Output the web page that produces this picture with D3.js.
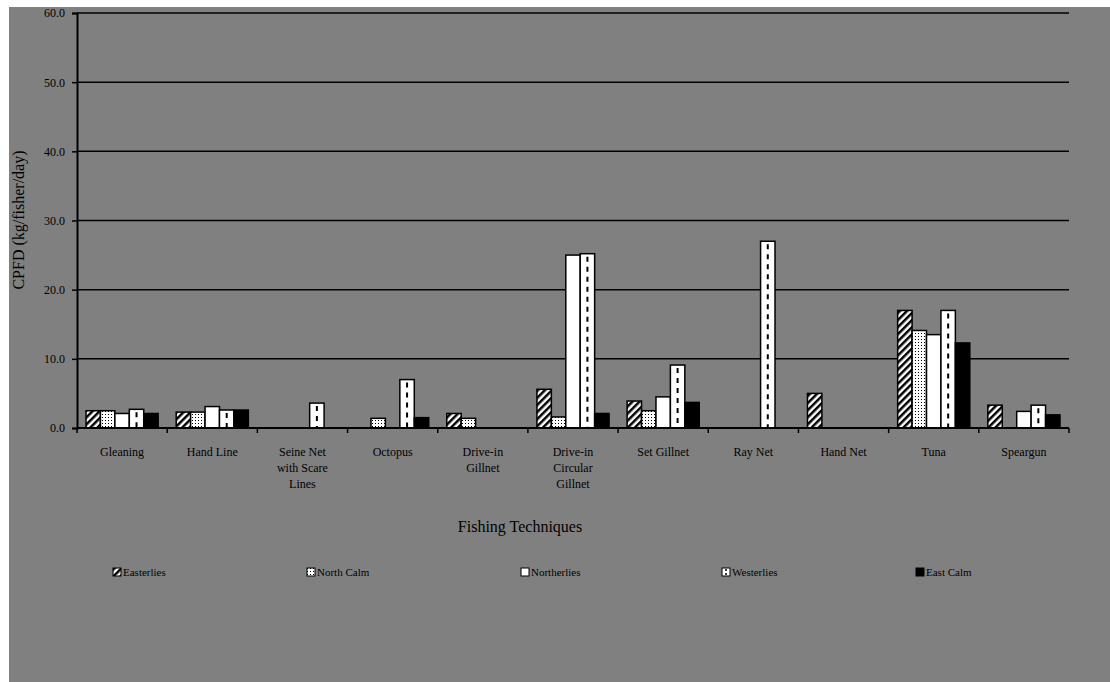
<!DOCTYPE html>
<html><head><meta charset="utf-8">
<script src="https://cdn.jsdelivr.net/npm/d3@7"></script>
<style>body{margin:0;background:#fff}svg{display:block}text{font-family:"Liberation Serif","DejaVu Serif",serif;fill:#000}</style>
</head><body>
<svg id="c" width="1110" height="682"></svg>
<script>
const categories = [["Gleaning"],["Hand Line"],["Seine Net","with Scare","Lines"],["Octopus"],["Drive-in","Gillnet"],["Drive-in","Circular","Gillnet"],["Set Gillnet"],["Ray Net"],["Hand Net"],["Tuna"],["Speargun"]];
const seriesNames = ["Easterlies","North Calm","Northerlies","Westerlies","East Calm"];
const easterlies  = [2.5, 2.3, null, null, 2.1, 5.6, 3.9, null, 5.0, 17.0, 3.3];
const northCalm   = [2.5, 2.3, null, 1.4, 1.4, 1.6, 2.5, null, null, 14.1, null];
const northerlies = [2.1, 3.1, null, null, null, 25.0, 4.5, null, null, 13.5, 2.4];
const westerlies  = [2.7, 2.6, 3.6, 7.0, null, 25.2, 9.1, 27.0, null, 17.0, 3.3];
const eastCalm    = [2.1, 2.6, null, 1.5, null, 2.1, 3.7, null, null, 12.3, 1.9];
const seriesValues = [easterlies, northCalm, northerlies, westerlies, eastCalm];
const yTicks = [0,10,20,30,40,50,60];

const svg = d3.select("#c");
svg.append("rect").attr("x",9).attr("y",7).attr("width",1101).attr("height",675).attr("fill","#808080");

const defs = svg.append("defs");
const p1 = defs.append("pattern").attr("id","pE").attr("patternUnits","userSpaceOnUse").attr("width",5).attr("height",5).attr("patternTransform","rotate(45)");
p1.append("rect").attr("width",5).attr("height",5).attr("fill","#fff");
p1.append("rect").attr("width",2.5).attr("height",5).attr("fill","#000");
const p2 = defs.append("pattern").attr("id","pN").attr("patternUnits","userSpaceOnUse").attr("width",3).attr("height",3);
p2.append("rect").attr("width",3).attr("height",3).attr("fill","#fff");
p2.append("rect").attr("width",1).attr("height",1).attr("fill","#000");
const fills = ["url(#pE)","url(#pN)","#fff","#fff","#000"];

const x0 = 77, x1 = 1069;
const x = d3.scaleBand().domain(d3.range(categories.length)).range([x0,x1]);
const y = d3.scaleLinear().domain([0,60]).range([428,13]);
const bw = x.bandwidth()/(5+1.25);
const xs = d3.scaleBand().domain(d3.range(5)).range([0,bw*5]);
const off = (x.bandwidth()-bw*5)/2;

// gridlines
svg.append("g").selectAll("line").data(yTicks.filter(d=>d>0)).join("line")
  .attr("x1",x0).attr("x2",x1).attr("y1",d=>y(d)).attr("y2",d=>y(d))
  .attr("stroke","#000").attr("stroke-width",1.5);

// y axis
const ya = svg.append("g").attr("transform",`translate(${x0},0)`)
  .call(d3.axisLeft(y).tickValues(yTicks).tickFormat(d3.format(".1f")).tickSize(5).tickPadding(7));
ya.select(".domain").attr("stroke","#000").attr("stroke-width",2);
ya.selectAll(".tick line").attr("stroke","#000").attr("stroke-width",1.5);
ya.selectAll("text").attr("font-size",12).attr("font-family","Liberation Serif").attr("fill","#000");

// bars
seriesValues.forEach((vals,si)=>{
  const g = svg.append("g");
  const data = vals.map((v,i)=>({i,v})).filter(d=>d.v!=null);
  g.selectAll("rect").data(data).join("rect")
    .attr("x",d=>x(d.i)+off+xs(si)).attr("width",bw)
    .attr("y",d=>y(d.v)).attr("height",d=>y(0)-y(d.v))
    .attr("fill",fills[si]).attr("stroke","#000").attr("stroke-width",1.5);
  if(si===3){
    g.selectAll("line").data(data).join("line")
      .attr("x1",d=>x(d.i)+off+xs(si)+bw/2).attr("x2",d=>x(d.i)+off+xs(si)+bw/2)
      .attr("y1",d=>y(d.v)+3).attr("y2",y(0))
      .attr("stroke","#000").attr("stroke-width",2).attr("stroke-dasharray","5,5");
  }
});

// x axis
svg.append("line").attr("x1",x0).attr("x2",x1).attr("y1",y(0)).attr("y2",y(0)).attr("stroke","#000").attr("stroke-width",2);
svg.append("g").selectAll("line").data(d3.range(categories.length+1)).join("line")
  .attr("x1",d=>x0+d*x.step()).attr("x2",d=>x0+d*x.step()).attr("y1",y(0)).attr("y2",y(0)+5)
  .attr("stroke","#000").attr("stroke-width",1.5);
const xl = svg.append("g").selectAll("text").data(categories).join("text")
  .attr("x",(d,i)=>x(i)+x.bandwidth()/2).attr("y",456).attr("text-anchor","middle").attr("font-size",12);
xl.selectAll("tspan").data(d=>d).join("tspan")
  .attr("x",function(){return this.parentNode.getAttribute("x");})
  .attr("dy",(d,i)=>i===0?0:16).text(d=>d);

// axis titles
svg.append("text").attr("x",520).attr("y",532).attr("text-anchor","middle").attr("font-size",16).text("Fishing Techniques");
svg.append("text").attr("transform","translate(24,220) rotate(-90)").attr("text-anchor","middle").attr("font-size",16).text("CPFD (kg/fisher/day)");

// legend
const legX = [113,307,521,722,916];
const lg = svg.append("g").selectAll("g").data(seriesNames).join("g")
  .attr("transform",(d,i)=>`translate(${legX[i]},568)`);
lg.append("rect").attr("width",8).attr("height",8).attr("fill",(d,i)=>fills[i]).attr("stroke","#000").attr("stroke-width",1);
lg.filter((d,i)=>i===3).append("line").attr("x1",4).attr("x2",4).attr("y1",1).attr("y2",8)
  .attr("stroke","#000").attr("stroke-width",1.5).attr("stroke-dasharray","2,2");
lg.append("text").attr("x",10).attr("y",8).attr("font-size",11).text(d=>d);
</script>
</body></html>
